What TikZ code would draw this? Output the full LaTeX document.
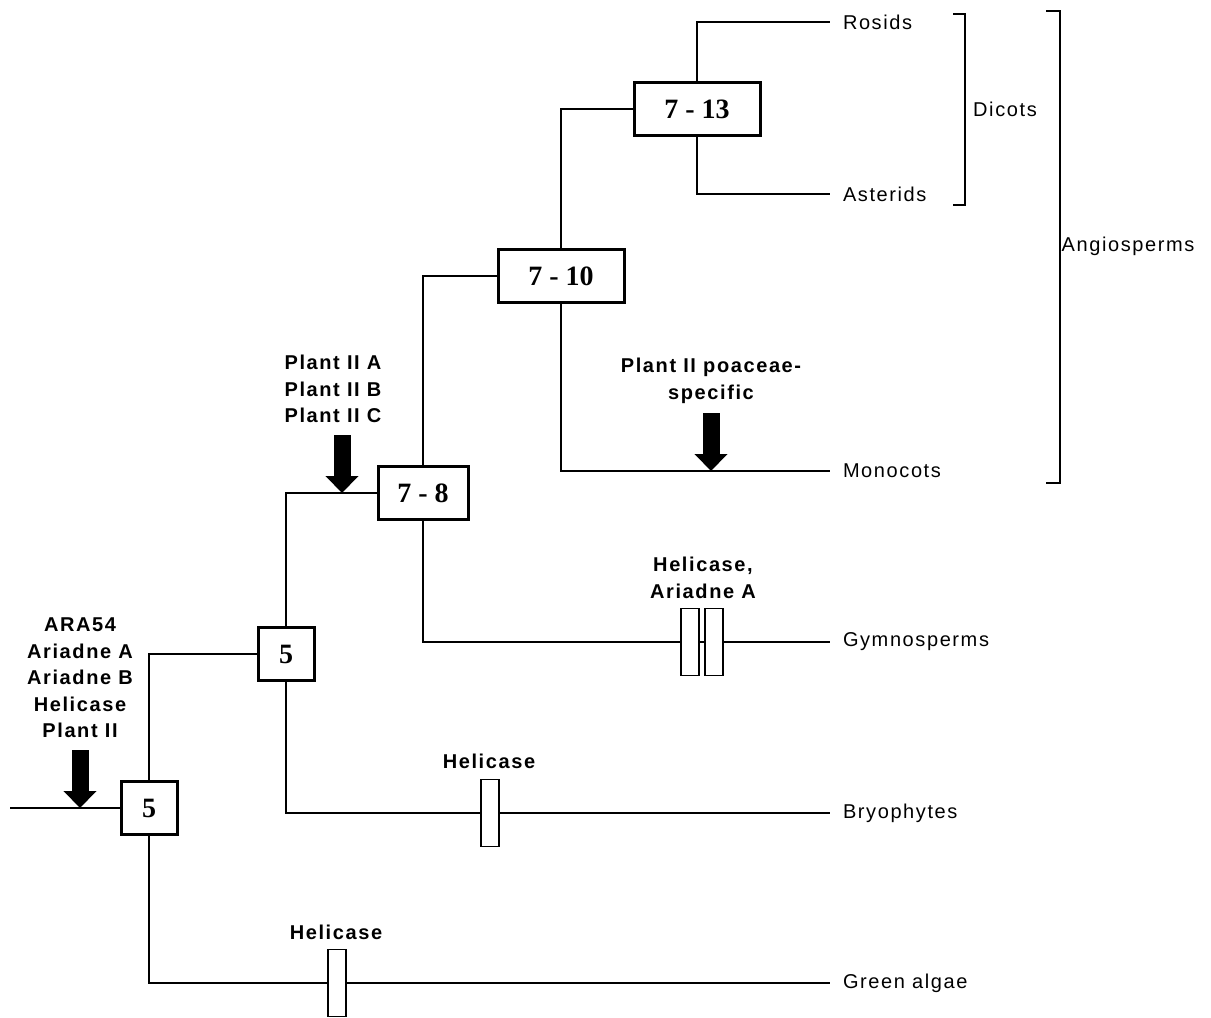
\documentclass[tikz,border=0pt]{standalone}
\usepackage{fontspec}
\setmainfont{Liberation Serif}
\newfontfamily\labelfont[LetterSpace=8]{Liberation Sans}
\usetikzlibrary{arrows.meta,positioning}

\begin{document}
\begin{tikzpicture}[x=1pt, y=-1pt,
    branch/.style={line width=2.9pt},
    splitbox/.style={draw, line width=3pt, fill=white, inner sep=0pt,
        minimum height=53pt, font=\fontsize{28}{30}\selectfont\bfseries},
    leaf/.style={anchor=west, inner xsep=13pt, outer sep=0pt,
        font=\labelfont\fontsize{20}{22}\selectfont},
    group/.style={inner sep=0pt, font=\labelfont\fontsize{20}{22}\selectfont},
    tag/.style={align=center, inner sep=0pt,
        font=\labelfont\fontsize{20}{26.5}\selectfont\bfseries},
    lossbox/.style={draw, line width=1.6pt, fill=white, inner sep=0pt,
        minimum width=18pt, minimum height=67pt},
    gain/.style={line width=17pt, -{Triangle[width=32pt,length=17pt]}},
    bracket/.style={line width=1.5pt}]
    \useasboundingbox (0,0) rectangle (1211,1018);

    % Split boxes
    \node[splitbox, minimum width=56pt]  (s1) at (149,808) {5};
    \node[splitbox, minimum width=56pt]  (s2) at (286,654) {5};
    \node[splitbox, minimum width=90pt]  (s3) at (423,493) {7 - 8};
    \node[splitbox, minimum width=126pt] (s4) at (561,276) {7 - 10};
    \node[splitbox, minimum width=126pt] (s5) at (697,109) {7 - 13};

    % Leaves
    \foreach \name/\y/\txt in {rosids/22/Rosids, asterids/194/Asterids,
        monocots/471/Monocots, gymno/642/Gymnosperms,
        bryo/813/Bryophytes, algae/983/Green algae} {
        \node[leaf] (\name) at (830,\y) {\txt};
    }

    % Branches
    \coordinate (root) at (10,808);
    \draw[branch] (root) -- (s1.west);
    \draw[branch] (s1.north) |- (s2.west);
    \draw[branch] (s1.south) |- (algae.west);
    \draw[branch] (s2.north) |- (s3.west);
    \draw[branch] (s2.south) |- (bryo.west);
    \draw[branch] (s3.north) |- (s4.west);
    \draw[branch] (s3.south) |- (gymno.west);
    \draw[branch] (s4.north) |- (s5.west);
    \draw[branch] (s4.south) |- (monocots.west);
    \draw[branch] (s5.north) |- (rosids.west);
    \draw[branch] (s5.south) |- (asterids.west);

    % Losses
    \node[lossbox] (h1) at (337,983) {};
    \node[lossbox] (h2) at (490,813) {};
    \node[lossbox] (h3) at (690,642) {};
    \node[lossbox] (h4) at (714,642) {};

    % Gene labels
    \node[tag] (t1) at (80,678) {ARA54\\Ariadne A\\Ariadne B\\Helicase\\Plant II};
    \node[tag] (t2) at (333,389) {Plant II A\\Plant II B\\Plant II C};
    \node[tag] (t3) at (711,381) {Plant II poaceae-\\specific};
    \node[tag] (t4) at (703,578) {Helicase,\\Ariadne A};
    \node[tag] (t5) at (489,761) {Helicase};
    \node[tag] (t6) at (336,932) {Helicase};

    % Gains
    \coordinate (g1a) at (80,750);  \coordinate (g1b) at (80,808);
    \coordinate (g2a) at (342,435); \coordinate (g2b) at (342,493);
    \coordinate (g3a) at (711,413); \coordinate (g3b) at (711,471);
    \draw[gain] (g1a) -- (g1b);
    \draw[gain] (g2a) -- (g2b);
    \draw[gain] (g3a) -- (g3b);

    % Groups
    \draw[bracket] (953,14) -| (965,205) -- (953,205);
    \draw[bracket] (1046,11) -| (1060,483) -- (1046,483);
    \node[group] (dicots) at (1005,109) {Dicots};
    \node[group] (angio) at (1128,246) {Angiosperms};
\end{tikzpicture}
\end{document}
